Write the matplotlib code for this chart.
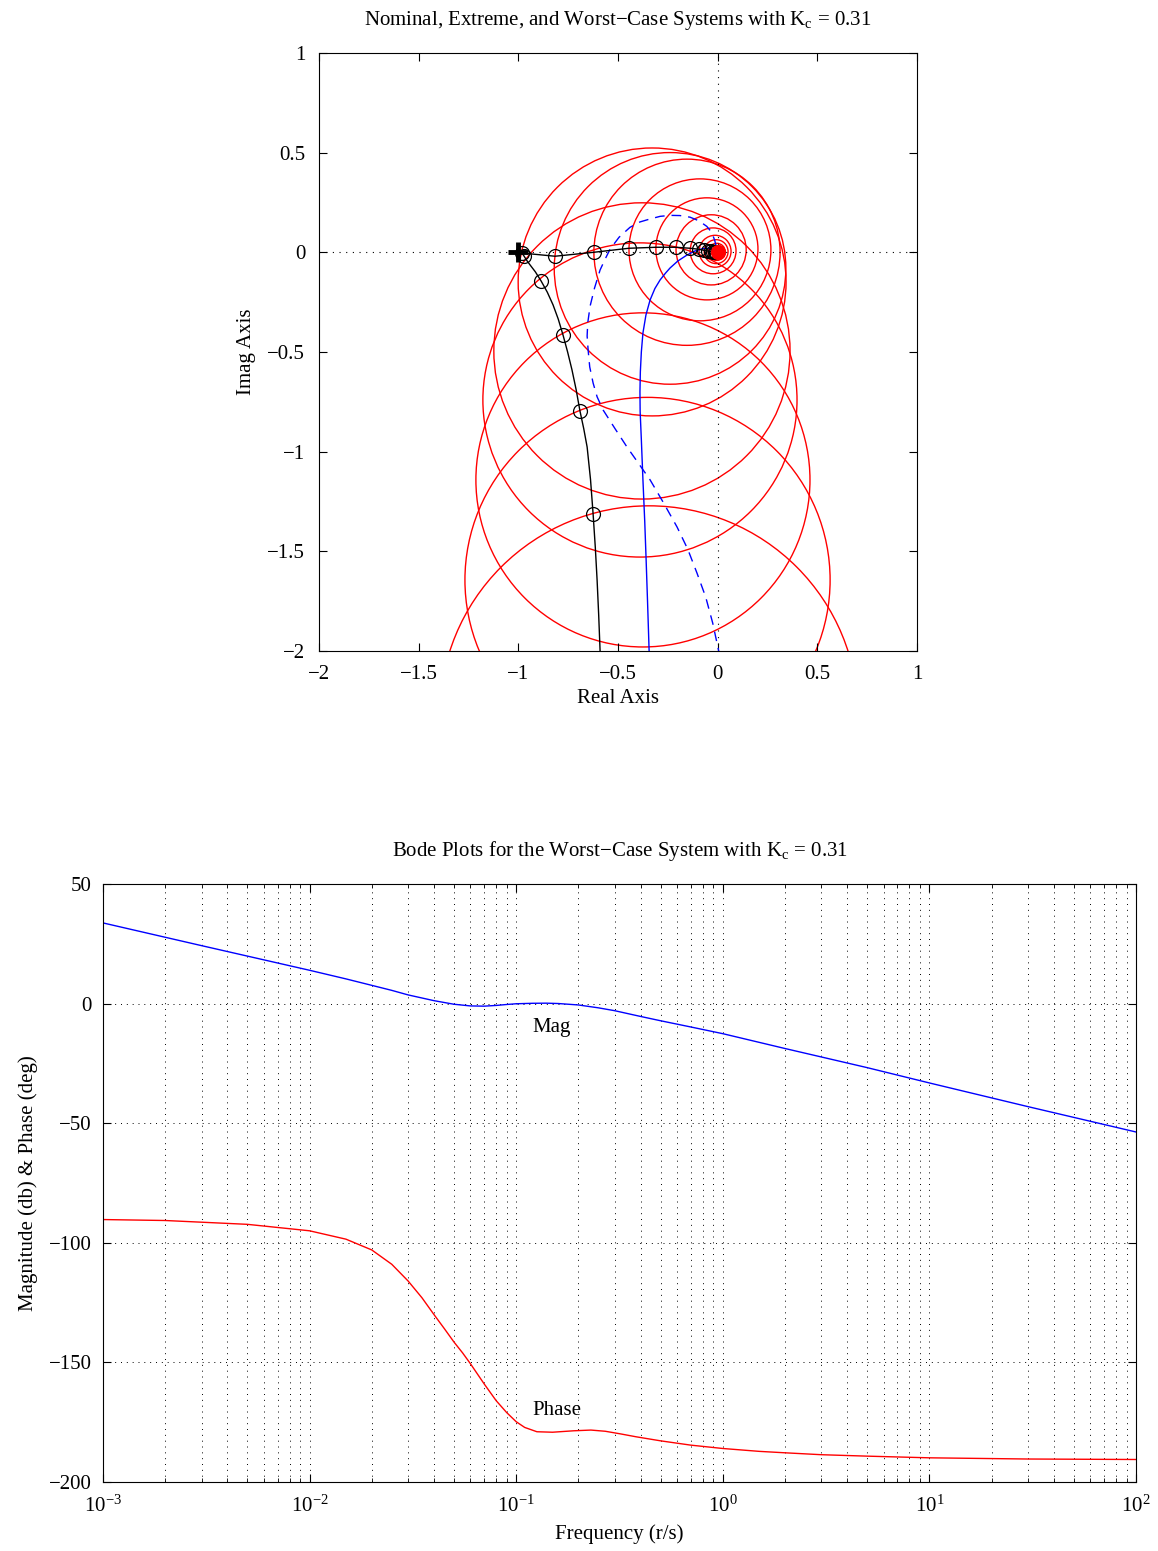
import matplotlib
matplotlib.use('Agg')
import matplotlib.pyplot as plt
from matplotlib.patches import Circle
from matplotlib.ticker import FuncFormatter, LogLocator

plt.rcParams['font.family'] = 'Liberation Serif'
plt.rcParams['mathtext.fontset'] = 'custom'
plt.rcParams['mathtext.rm'] = 'Liberation Serif'
plt.rcParams['mathtext.it'] = 'Liberation Serif'

# ---- Nyquist data ----
# nominal centres and uncertainty radii
circ_x = [-0.345, -0.352, -0.375, -0.390, -0.380, -0.329, -0.239, -0.154, -0.089,
          -0.054, -0.033, -0.023, -0.013, -0.008, -0.005, -0.003, -0.002, -0.001, 0.0]
circ_y = [-2.321, -1.644, -1.142, -0.741, -0.495, -0.149, -0.081, 0.0, 0.012,
          0.017, 0.012, 0.007, 0.005, 0.003, 0.002, 0.001, 0.0, 0.0, 0.0]
circ_r = [1.049, 0.916, 0.838, 0.788, 0.743, 0.672, 0.581, 0.467, 0.356,
          0.256, 0.176, 0.115, 0.080, 0.060, 0.043, 0.028, 0.018, 0.011, 0.006]

# worst-case points (markers)
wc_x = [-0.625, -0.691, -0.776, -0.886, -0.971, -0.982, -0.816, -0.620, -0.445,
        -0.309, -0.209, -0.139, -0.095, -0.070, -0.050, -0.035, -0.024, -0.015, -0.008]
wc_y = [-1.313, -0.796, -0.415, -0.144, -0.020, -0.004, -0.020, 0.0, 0.020,
        0.025, 0.025, 0.020, 0.015, 0.010, 0.006, 0.004, 0.002, 0.001, 0.0]

# worst-case curve
wl_x = [-0.585, -0.590, -0.597, -0.605, -0.614, -0.625, -0.638, -0.655, -0.672, -0.691,
        -0.710, -0.731, -0.753, -0.776, -0.800, -0.826, -0.855, -0.886, -0.915,
        -0.941, -0.960, -0.971, -0.982, -0.816, -0.620, -0.445, -0.309, -0.209, -0.139,
        -0.095, -0.070, -0.050, -0.035, -0.024, -0.015, -0.008, 0.0]
wl_y = [-2.2, -2.0, -1.82, -1.644, -1.48, -1.313, -1.14, -0.977, -0.885, -0.796,
        -0.69, -0.590, -0.50, -0.415, -0.335, -0.264, -0.20, -0.144, -0.098,
        -0.064, -0.038, -0.020, -0.004, -0.020, 0.0, 0.020, 0.025, 0.025, 0.020,
        0.015, 0.010, 0.006, 0.004, 0.002, 0.001, 0.0, 0.0]

# extreme systems
ex1_x = [-0.342, -0.344, -0.352, -0.359, -0.366, -0.375, -0.383, -0.389, -0.390,
         -0.388, -0.383, -0.375, -0.360, -0.339, -0.315, -0.289, -0.262, -0.239,
         -0.200, -0.154, -0.115, -0.075, -0.045, -0.020, 0.0]
ex1_y = [-2.2, -2.0, -1.75, -1.544, -1.35, -1.142, -0.94, -0.80, -0.70,
         -0.60, -0.50, -0.405, -0.315, -0.239, -0.182, -0.139, -0.105, -0.079,
         -0.044, -0.014, 0.006, 0.018, 0.020, 0.012, 0.0]
ex2_x = [0.012, 0.005, -0.025, -0.060, -0.104, -0.150, -0.204, -0.270, -0.339, -0.400,
         -0.455, -0.515, -0.575, -0.605, -0.625, -0.642, -0.650, -0.655, -0.652,
         -0.640, -0.618, -0.590, -0.565, -0.540, -0.495, -0.440, -0.390, -0.339,
         -0.289, -0.239, -0.189, -0.139, -0.095, -0.055, -0.030, -0.015, 0.0]
ex2_y = [-2.2, -2.0, -1.86, -1.73, -1.609, -1.49, -1.378, -1.26, -1.142, -1.055,
         -0.977, -0.885, -0.791, -0.725, -0.656, -0.575, -0.490, -0.420, -0.355,
         -0.270, -0.180, -0.089, -0.035, 0.015, 0.075, 0.125, 0.152, 0.167,
         0.180, 0.185, 0.184, 0.176, 0.158, 0.130, 0.100, 0.060, 0.0]

# ---- Bode data ----
mag_w = [1e-3, 3e-3, 1e-2, 1.5e-2, 2e-2, 2.5e-2, 3e-2, 4e-2, 5e-2, 6e-2, 7e-2, 8e-2,
         9e-2, 0.1, 0.12, 0.14, 0.16, 0.2, 0.25, 0.3, 0.4, 0.5, 0.7, 1.0, 2, 5, 10,
         30, 100]
mag_db = [33.7, 24.2, 13.9, 10.3, 7.6, 5.5, 3.6, 1.2, -0.3, -1.0, -1.1, -0.8,
          -0.4, -0.1, 0.1, 0.15, 0.0, -0.6, -1.8, -3.0, -5.4, -7.2, -9.8, -12.6,
          -18.8, -26.8, -33.2, -43.1, -53.7]
ph_w = [1e-3, 2e-3, 5e-3, 1e-2, 1.5e-2, 2e-2, 2.5e-2, 3e-2, 3.5e-2, 4e-2, 4.5e-2,
        5e-2, 5.5e-2, 6e-2, 7e-2, 8e-2, 9e-2, 0.1, 0.11, 0.126, 0.15, 0.19, 0.23,
        0.27, 0.32, 0.38, 0.5, 0.7, 1.0, 1.5, 2, 3, 5, 10, 30, 100]
ph_deg = [-90.3, -90.7, -92.3, -95.0, -98.5, -103, -109, -116, -123, -130, -136,
          -141.5, -146, -150.5, -159, -166, -171, -174.8, -177.2, -179.0, -179.2,
          -178.6, -178.3, -178.8, -179.9, -181.1, -182.8, -184.6, -186.0, -187.2,
          -187.8, -188.6, -189.2, -189.9, -190.4, -190.6]

fmt = FuncFormatter(lambda v, p: ('%g' % v).replace('-', '\u2212'))
dots = (0, (1, 5))

fig = plt.figure(figsize=(11.58, 15.51), dpi=100)

# ---------------- Nyquist ----------------
ax1 = fig.add_axes([0.2755, 0.5803, 0.5164, 0.3856])
for cx, cy, r in zip(circ_x, circ_y, circ_r):
    ax1.add_patch(Circle((cx, cy), r, fill=False, edgecolor='red', lw=1.0))
ax1.axhline(0, color='k', ls=dots, lw=0.8)
ax1.axvline(0, color='k', ls=dots, lw=0.8)
ax1.plot(ex1_x, ex1_y, color='blue', lw=1.0)
ax1.plot(ex2_x, ex2_y, color='blue', lw=1.0, dashes=(7, 5))
ax1.plot(wl_x, wl_y, color='k', lw=1.0)
ax1.plot(wc_x, wc_y, 'o', mfc='none', mec='k', ms=10, mew=0.9)
ax1.plot([0], [0], 'o', color='red', ms=10)
ax1.plot([-1], [0], '+', color='k', ms=14, mew=3.5)
ax1.set_xlim(-2, 1)
ax1.set_ylim(-2, 1)
ax1.set_xticks([-2, -1.5, -1, -0.5, 0, 0.5, 1])
ax1.set_yticks([-2, -1.5, -1, -0.5, 0, 0.5, 1])
ax1.xaxis.set_major_formatter(fmt)
ax1.yaxis.set_major_formatter(fmt)
ax1.tick_params(direction='in', top=True, right=True, length=6, labelsize=15, pad=10)
ax1.set_xlabel('Real Axis', fontsize=15, labelpad=4)
ax1.set_ylabel('Imag Axis', fontsize=15, labelpad=8)
ax1.set_title('Nominal, Extreme, and Worst\u2212Case Systems with K$_\\mathrm{c}$ = 0.31',
              fontsize=15, pad=20)

# ---------------- Bode ----------------
ax2 = fig.add_axes([0.0889, 0.0445, 0.8921, 0.3856])
ax2.semilogx(mag_w, mag_db, color='blue', lw=1.0)
ax2.semilogx(ph_w, ph_deg, color='red', lw=1.0)
ax2.set_xlim(1e-3, 1e2)
ax2.set_ylim(-200, 50)
ax2.set_yticks([-200, -150, -100, -50, 0, 50])
ax2.yaxis.set_major_formatter(fmt)
ax2.xaxis.set_minor_locator(LogLocator(base=10, subs=range(2, 10), numticks=20))
ax2.grid(True, which='major', color='k', ls=dots, lw=0.7)
ax2.grid(True, which='minor', axis='x', color='k', ls=dots, lw=0.7)
ax2.tick_params(which='both', direction='in', top=True, right=True, labelsize=15)
ax2.tick_params(axis='x', which='both', pad=10)
ax2.tick_params(axis='y', which='both', pad=8)
ax2.tick_params(which='major', length=6)
ax2.tick_params(which='minor', length=3)
ax2.text(0.149, -10.2, 'Mag', fontsize=15, ha='center', va='center')
ax2.text(0.158, -170.3, 'Phase', fontsize=15, ha='center', va='center')
ax2.set_xlabel('Frequency (r/s)', fontsize=15, labelpad=5)
ax2.set_ylabel('Magnitude (db) & Phase (deg)', fontsize=15, labelpad=8)
ax2.set_title('Bode Plots for the Worst\u2212Case System with K$_\\mathrm{c}$ = 0.31',
              fontsize=15, pad=20)

fig.savefig('out.png', dpi=100)
